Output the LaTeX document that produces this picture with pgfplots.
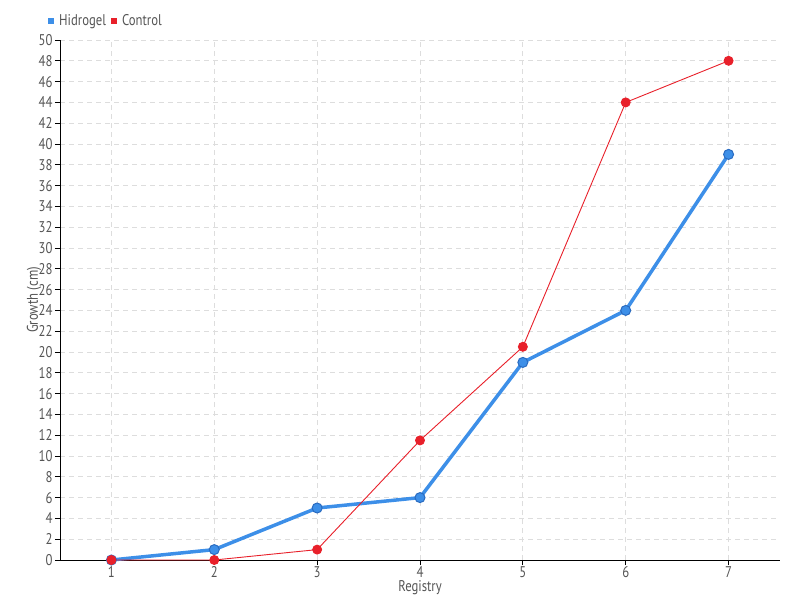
\documentclass[border=0pt]{standalone}
\usepackage{pgfplots}
\pgfplotsset{compat=1.18}
\usepackage{fontspec}
\setmainfont[FakeStretch=0.82]{PT Sans}
\definecolor{hblue}{HTML}{3D8FE8}
\definecolor{hblueD}{HTML}{2A6BC0}
\definecolor{cred}{HTML}{E8202A}
\definecolor{txt}{HTML}{555555}
\definecolor{gridc}{HTML}{DDDDDD}
\begin{document}
\begin{tikzpicture}[x=1pt,y=1pt]
\path[use as bounding box] (0,0) rectangle (800,600);
\begin{axis}[
  at={(60pt,40pt)}, anchor=south west,
  scale only axis, width=720pt, height=520pt,
  xmin=0.5, xmax=7.5, ymin=0, ymax=50,
  xtick={1,...,7}, ytick={0,2,...,50},
  axis x line*=bottom, axis y line*=left,
  axis line style={black, line width=0.8pt, -},
  tick style={black, line width=0.8pt},
  major tick length=5pt,
  xtick align=outside, ytick align=outside,
  grid=major,
  major grid style={gridc, dash pattern=on 5pt off 4pt, line width=0.8pt},
  tick label style={font=\fontsize{15.5}{15.5}\selectfont, text=txt},
  xticklabel style={inner sep=1pt, yshift=0pt},
  yticklabel style={xshift=1pt},
  /pgf/number format/assume math mode=true,
  xlabel={Registry}, ylabel={Growth (cm)},
  label style={font=\fontsize{15.5}{15.5}\selectfont, text=txt},
  xlabel style={at={([yshift=-28pt]axis description cs:0.5,0)}, anchor=center, inner sep=0.5pt},
  ylabel style={at={([xshift=-26pt]axis description cs:0,0.5)}, anchor=center},
  legend style={at={(-12pt,539pt)}, anchor=west, draw=none, fill=none,
    font=\fontsize{15.5}{15.5}\selectfont, text=txt, legend columns=2,
    column sep=3pt, inner sep=0pt},
  legend image code/.code={\fill[#1, draw=none] (0pt,-3pt) rectangle (6pt,3pt);},
  clip=false,
]
\addplot[hblue, line width=3.5pt, mark=*, mark size=5pt,
  mark options={fill=hblue, draw=hblueD, line width=1pt}]
  coordinates {(1,0) (2,1) (3,5) (4,6) (5,19) (6,24) (7,39)};
\addlegendentry{Hidrogel}
\addplot[cred, line width=0.9pt, mark=*, mark size=4.5pt,
  mark options={fill=cred, draw=cred}]
  coordinates {(1,0) (2,0) (3,1) (4,11.5) (5,20.5) (6,44) (7,48)};
\addlegendentry{Control}
\end{axis}
\end{tikzpicture}
\end{document}
